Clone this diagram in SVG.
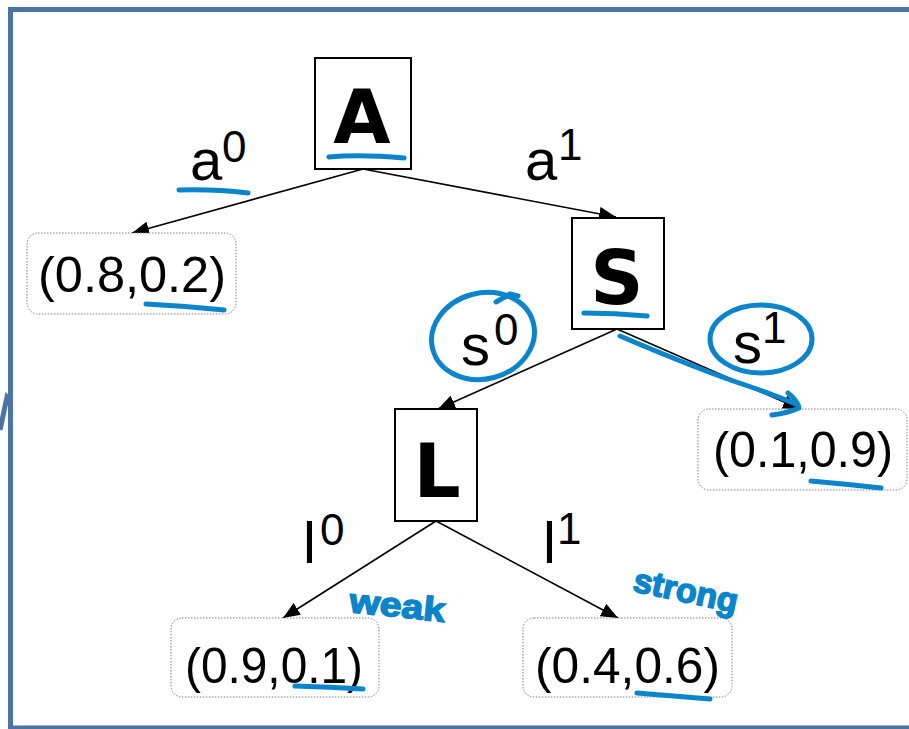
<svg xmlns="http://www.w3.org/2000/svg" width="909" height="729" viewBox="0 0 909 729">
<defs>
<style>
.frame{fill:none;stroke:#4b74a2;stroke-width:5}
.node{fill:#fff;stroke:#000;stroke-width:2}
.leaf{fill:#fff;stroke:#808080;stroke-width:1;stroke-dasharray:1.5 1.5}
.big{font-family:"DejaVu Sans","Liberation Sans",sans-serif;font-weight:bold;font-size:74px;fill:#000;text-anchor:middle}
.pay{font-family:"Liberation Sans",Arial,sans-serif;font-size:50px;fill:#000}
.lab{font-family:"Liberation Sans",Arial,sans-serif;font-size:58px;fill:#000}
.sup{font-family:"Liberation Sans",Arial,sans-serif;font-size:44px;fill:#000}
.edge{stroke:#000;stroke-width:1.6;fill:none;marker-end:url(#arr)}
.ink{fill:none;stroke:#0a84cb;stroke-width:5;stroke-linecap:round;stroke-linejoin:round}
.hand{font-family:"Liberation Sans",sans-serif;font-weight:bold;fill:#0a84cb;stroke:#0a84cb;stroke-width:1.5}
</style>
<marker id="arr" markerUnits="userSpaceOnUse" markerWidth="18" markerHeight="14" refX="17" refY="7" orient="auto">
<path d="M0,0 L17,7 L0,14 z" fill="#000"/>
</marker>
</defs>
<rect width="909" height="729" fill="#fff"/>
<g id="frame">
<path class="frame" d="M909,9.5 H10.5 V728 H909"/>
<polyline class="frame" points="0,430 7,397 10,400" stroke-width="4"/>
</g>
<g id="connectors">
<line class="edge" x1="363" y1="169" x2="132" y2="233"/>
<line class="edge" x1="363" y1="169" x2="616" y2="217"/>
<line class="edge" x1="617" y1="329" x2="438" y2="409"/>
<line class="edge" x1="617" y1="329" x2="800" y2="409"/>
<line class="edge" x1="436" y1="521" x2="283" y2="618"/>
<line class="edge" x1="436" y1="521" x2="618" y2="618"/>
</g>
<g id="edge-labels">
<text class="lab" x="190" y="180">a</text><text class="sup" x="222" y="162">0</text>
<text class="lab" x="525" y="180" font-size="56">a</text><text class="sup" x="558" y="160">1</text>
<text class="lab" x="461" y="365" font-size="62">s</text><text class="sup" x="494" y="345">0</text>
<text class="lab" x="733" y="363" font-size="60">s</text><text class="sup" x="762" y="343">1</text>
<text class="lab" x="303" y="563" font-size="68">l</text><text class="sup" x="320" y="545">0</text>
<text class="lab" x="543" y="563" font-size="68">l</text><text class="sup" x="557" y="544">1</text>
</g>
<g id="node-A">
<rect class="node" x="315" y="58" width="96" height="111"/>
<text class="big" x="362" y="143">A</text>
</g>
<g id="node-S">
<rect class="node" x="572" y="218" width="92" height="111"/>
<text class="big" x="617" y="304">S</text>
</g>
<g id="node-L">
<rect class="node" x="395" y="409" width="82" height="112"/>
<text class="big" x="437" y="497" font-size="80">L</text>
</g>
<g id="leaf-08-02">
<rect class="leaf" x="27" y="233" width="209" height="81" rx="11"/>
<text class="pay" x="38" y="292" textLength="188" lengthAdjust="spacingAndGlyphs">(0.8,0.2)</text>
</g>
<g id="leaf-01-09">
<rect class="leaf" x="698" y="409" width="209" height="81" rx="11"/>
<text class="pay" x="713" y="467" textLength="180" lengthAdjust="spacingAndGlyphs">(0.1,0.9)</text>
</g>
<g id="leaf-09-01">
<rect class="leaf" x="171" y="618" width="208" height="79" rx="11"/>
<text class="pay" x="185" y="683" textLength="178" lengthAdjust="spacingAndGlyphs">(0.9,0.1)</text>
</g>
<g id="leaf-04-06">
<rect class="leaf" x="523" y="618" width="209" height="79" rx="11"/>
<text class="pay" x="535" y="683" textLength="185" lengthAdjust="spacingAndGlyphs">(0.4,0.6)</text>
</g>
<g id="annotations">
<path class="ink" d="M329,157 Q360,154 404,158"/>
<path class="ink" d="M179,190 Q215,189 248,193"/>
<path class="ink" d="M146,304 Q185,306 224,310"/>
<path class="ink" d="M584,313 Q615,313 647,316"/>
<path class="ink" d="M811,481 Q845,484 881,488"/>
<path class="ink" d="M295,686 Q330,687 363,689"/>
<path class="ink" d="M637,693 Q675,696 710,699"/>
<ellipse class="ink" cx="483" cy="336" rx="52" ry="43" transform="rotate(-15 483 336)"/>
<path class="ink" d="M496,302 L510,294 L518,296"/>
<ellipse class="ink" cx="761" cy="339" rx="51" ry="34"/>
<path class="ink" d="M620,336 Q700,370 745,385 Q775,395 798,405"/>
<path class="ink" d="M788,393 Q797,400 799,408 Q788,413 772,415"/>
<text class="hand" x="350" y="617" font-size="34" textLength="96" lengthAdjust="spacingAndGlyphs" transform="rotate(6 398 600)">weak</text>
<text class="hand" x="633" y="602" font-size="34" textLength="106" lengthAdjust="spacingAndGlyphs" transform="rotate(12 685 590)">strong</text>
</g>
</svg>
